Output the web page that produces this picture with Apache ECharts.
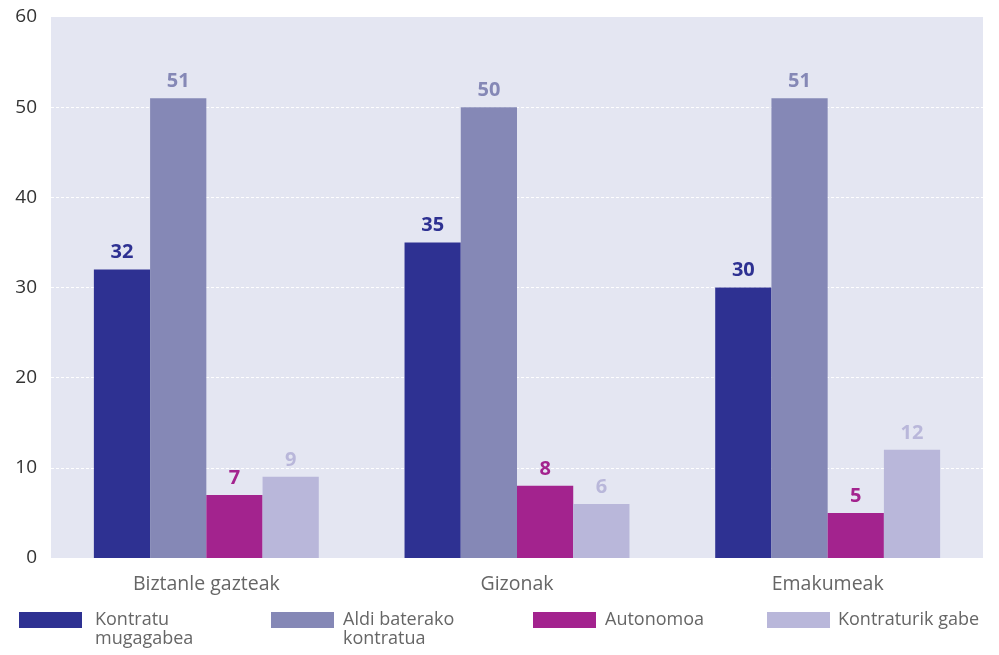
<!DOCTYPE html>
<html><head><meta charset="utf-8">
<script src="https://cdn.jsdelivr.net/npm/echarts@6/dist/echarts.min.js"></script>
<style>html,body{margin:0;padding:0;background:#fff}#c{width:999px;height:655px}</style>
</head><body><div id="c"></div>
<script>
const categories = ['Biztanle gazteak', 'Gizonak', 'Emakumeak'];
const seriesNames = ['Kontratu\nmugagabea', 'Aldi baterako\nkontratua', 'Autonomoa', 'Kontraturik gabe'];
const kontratuMugagabea = [32, 35, 30];
const aldiBaterako = [51, 50, 51];
const autonomoa = [7, 8, 5];
const kontraturikGabe = [9, 6, 12];
const yTicks = [0, 10, 20, 30, 40, 50, 60];

const colors = ['#2E3192', '#8588B6', '#A3238E', '#B9B7DA'];
const values = [kontratuMugagabea, aldiBaterako, autonomoa, kontraturikGabe];
const font = '"Open Sans", "Noto Sans", sans-serif';
const legendLefts = [19, 271, 533, 767];
const legendTextGap = [8, 4, 4, 3];

const secondLines = [];
seriesNames.forEach((n, i) => {
  const parts = n.split('\n');
  if (parts.length > 1) {
    secondLines.push({
      type: 'text', left: legendLefts[i] + 63 + 5 + legendTextGap[i], top: 630,
      style: { text: parts[1], fill: '#666', font: '18px ' + font }
    });
  }
});

const chart = echarts.init(document.getElementById('c'));
chart.setOption({
  animation: false,
  textStyle: { fontFamily: font },
  grid: { left: 51, right: 16, top: 17, bottom: 97, containLabel: false,
          show: true, backgroundColor: '#E4E6F2', borderWidth: 0 },
  xAxis: {
    type: 'category', data: categories,
    axisLine: { show: false }, axisTick: { show: false },
    axisLabel: { color: '#666', fontSize: 19.5, margin: 16, fontFamily: font }
  },
  yAxis: {
    type: 'value', min: yTicks[0], max: yTicks[yTicks.length - 1], interval: 10,
    axisLine: { show: false }, axisTick: { show: false },
    axisLabel: { color: '#333', fontSize: 19, margin: 14, fontFamily: font },
    splitLine: { show: true, showMinLine: false, showMaxLine: false,
                 lineStyle: { color: '#ffffff', type: [3, 2], width: 1.2 } }
  },
  legend: seriesNames.map((n, i) => ({
    data: [n], left: legendLefts[i], top: 609.5, padding: 0,
    itemWidth: 63, itemHeight: 16, itemGap: 0, icon: 'rect',
    formatter: name => name.split('\n')[0],
    textStyle: { color: '#666', fontSize: 18, fontFamily: font, lineHeight: 21,
                 padding: [0, 0, 0, legendTextGap[i]] },
    selectedMode: false
  })),
  graphic: secondLines,
  series: seriesNames.map((n, i) => ({
    name: n, type: 'bar', data: values[i],
    barGap: '0%', barCategoryGap: '27.6%',
    itemStyle: { color: colors[i] },
    label: { show: true, position: 'top', distance: 7, color: colors[i],
             fontSize: 20, fontWeight: 'bold', fontFamily: font }
  }))
});
</script></body></html>
